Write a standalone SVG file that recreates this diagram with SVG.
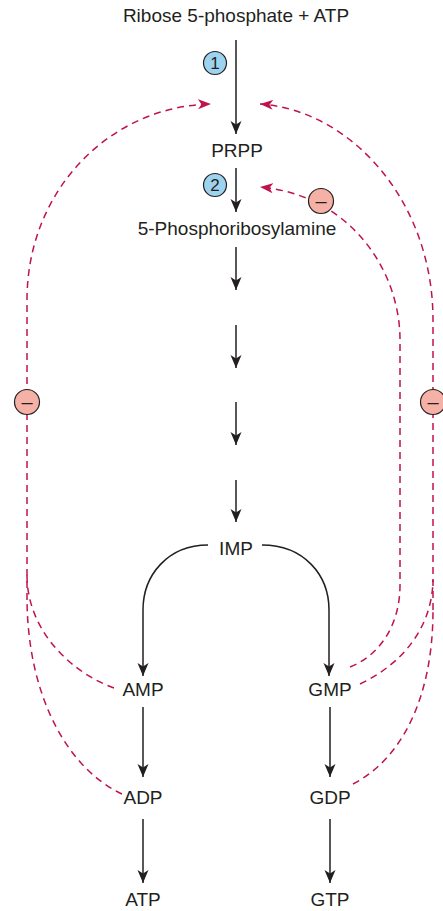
<svg xmlns="http://www.w3.org/2000/svg" width="443" height="911" viewBox="0 0 443 911">
<defs>
<style>
.lbl{font-family:"Liberation Sans",Arial,sans-serif;font-size:19px;fill:#231f20;text-anchor:middle}
.num{font-family:"Liberation Sans",Arial,sans-serif;font-size:17px;fill:#231f20;text-anchor:middle}
.minus{font-family:"Liberation Sans",Arial,sans-serif;font-size:20px;fill:#231f20;text-anchor:middle}
.flow{fill:none;stroke:#231f20;stroke-width:1.5;marker-end:url(#ah)}
.inh{fill:none;stroke:#c0134e;stroke-width:1.5;stroke-dasharray:7 5}
.inha{fill:none;stroke:#c0134e;stroke-width:1.5;stroke-dasharray:7 5;marker-end:url(#rh)}
.enz{fill:#9dd3ee;stroke:#231f20;stroke-width:1.2}
.neg{fill:#f5b1a5;stroke:#231f20;stroke-width:1.2}
</style>
<marker id="ah" markerUnits="userSpaceOnUse" markerWidth="14" markerHeight="12" viewBox="0 0 14 12" refX="13" refY="6" orient="auto">
<path d="M0,0.5 L13,6 L0,11.5 L3.5,6 z" fill="#231f20"/>
</marker>
<marker id="rh" markerUnits="userSpaceOnUse" markerWidth="14" markerHeight="12" viewBox="0 0 14 12" refX="13" refY="6" orient="auto">
<path d="M0,1 L13,6 L0,11 L3.5,6 z" fill="#c0134e"/>
</marker>
</defs>
<g id="connectors">
<path class="flow" d="M236,40 L236,134"/>
<path class="flow" d="M236,168 L236,212"/>
<path class="flow" d="M236,247 L236,290"/>
<path class="flow" d="M236,325 L236,368"/>
<path class="flow" d="M236,402 L236,445"/>
<path class="flow" d="M236,480 L236,522"/>
<path class="flow" d="M208,545 C168,545 143,575 143,610 L143,676"/>
<path class="flow" d="M262,545 C304,545 329,575 329,610 L329,676"/>
<path class="flow" d="M143,707 L143,777"/>
<path class="flow" d="M143,819 L143,883"/>
<path class="flow" d="M330,707 L330,777"/>
<path class="flow" d="M330,819 L330,883"/>
<path class="inha" d="M27,600 L27,300 C27,190 110,106 211,104"/>
<path class="inh" d="M114,688 C70,672 27,630 27,575"/>
<path class="inh" d="M122,794 C70,770 28,700 27,600"/>
<path class="inha" d="M433,610 L433,320 C433,200 350,110 260,104"/>
<path class="inh" d="M360,684 C400,665 432,630 433,580"/>
<path class="inh" d="M353,784 C400,760 433,700 433,610"/>
<path class="inha" d="M350,667 C380,655 400,625 400,585 L400,340 C400,270 350,195 260,187"/>
</g>
<g id="ribose"><text class="lbl" x="236" y="22">Ribose 5-phosphate + ATP</text></g>
<g id="enzyme1"><circle class="enz" cx="215" cy="63" r="11.5"/><text class="num" x="215" y="69">1</text></g>
<g id="prpp"><text class="lbl" x="237" y="157">PRPP</text></g>
<g id="enzyme2"><circle class="enz" cx="215" cy="185" r="11.5"/><text class="num" x="215" y="191">2</text></g>
<g id="phosphoribosylamine"><text class="lbl" x="237" y="235">5-Phosphoribosylamine</text></g>
<g id="imp"><text class="lbl" x="236" y="555">IMP</text></g>
<g id="amp"><text class="lbl" x="143" y="696">AMP</text></g>
<g id="gmp"><text class="lbl" x="330" y="696">GMP</text></g>
<g id="adp"><text class="lbl" x="143" y="804">ADP</text></g>
<g id="gdp"><text class="lbl" x="330" y="804">GDP</text></g>
<g id="atp"><text class="lbl" x="143" y="906">ATP</text></g>
<g id="gtp"><text class="lbl" x="330" y="906">GTP</text></g>
<g id="inhib-left"><circle class="neg" cx="27" cy="402" r="12.5"/><text class="minus" x="27" y="408.5">–</text></g>
<g id="inhib-right"><circle class="neg" cx="433" cy="402" r="12.5"/><text class="minus" x="433" y="408.5">–</text></g>
<g id="inhib-inner"><circle class="neg" cx="321" cy="201" r="12.5"/><text class="minus" x="321" y="207.5">–</text></g>
</svg>
